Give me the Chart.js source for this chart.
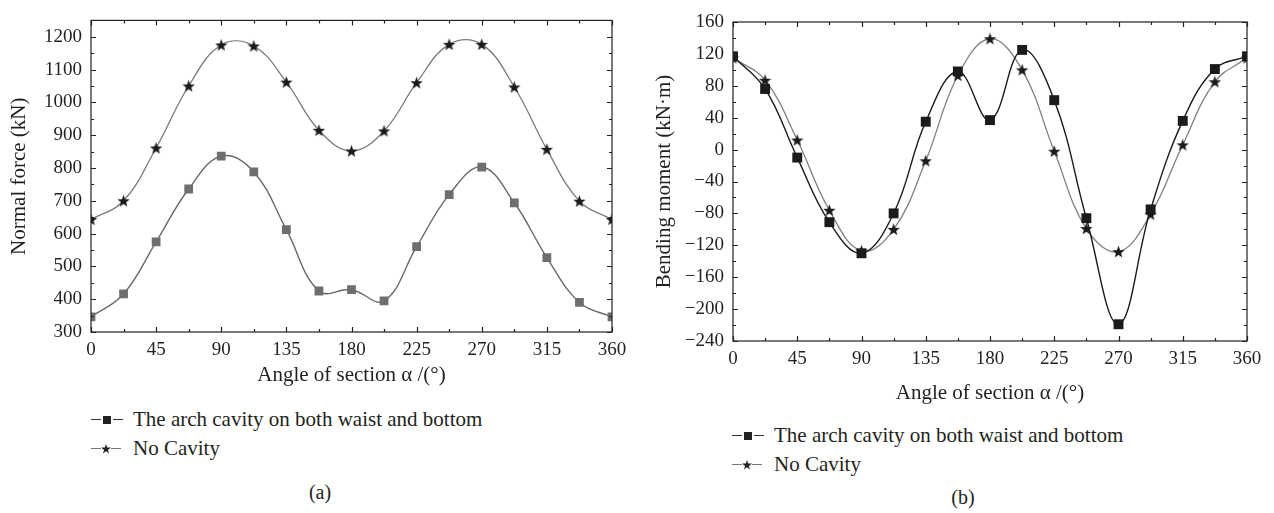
<!DOCTYPE html>
<html>
<head>
<meta charset="utf-8">
<script src="https://cdn.jsdelivr.net/npm/chart.js"></script>
<style>
  body { margin: 0; background: #fff; width: 1274px; height: 513px; position: relative; overflow: hidden;
         font-family: "Liberation Serif", "DejaVu Serif", serif; color: #231f20; }
  canvas { position: absolute; }
  .legend { position: absolute; font-size: 21px; line-height: 29px; }
  .row { display: flex; align-items: center; white-space: nowrap; }
  .sym { display: inline-flex; align-items: center; width: 34px; margin-right: 8px; }
  .ln { display: inline-block; width: 10px; height: 1.3px; background: #333; }
  .ln.grey { background: #777; }
  .sq { display: inline-block; width: 8px; height: 8px; background: #222; margin: 0 2px; }
  .caption { position: absolute; font-size: 20px; transform: translateX(-50%); }
</style>
</head>
<body>
<canvas id="forceChart" width="640" height="392" style="left:0;top:0"></canvas>
<canvas id="momentChart" width="634" height="410" style="left:640px;top:0"></canvas>

<div class="legend" style="left:91px;top:405px">
  <div class="row"><span class="sym"><i class="ln"></i><b class="sq"></b><i class="ln"></i></span>The arch cavity on both waist and bottom</div>
  <div class="row"><span class="sym"><i class="ln grey"></i><svg width="10" height="10" viewBox="0 0 10 10"><polygon points="5,0 6.2,3.6 10,3.6 6.9,5.9 8.1,9.6 5,7.3 1.9,9.6 3.1,5.9 0,3.6 3.8,3.6" fill="#222"/></svg><i class="ln grey"></i></span>No Cavity</div>
</div>
<div class="legend" style="left:732px;top:421px">
  <div class="row"><span class="sym"><i class="ln"></i><b class="sq"></b><i class="ln"></i></span>The arch cavity on both waist and bottom</div>
  <div class="row"><span class="sym"><i class="ln grey"></i><svg width="10" height="10" viewBox="0 0 10 10"><polygon points="5,0 6.2,3.6 10,3.6 6.9,5.9 8.1,9.6 5,7.3 1.9,9.6 3.1,5.9 0,3.6 3.8,3.6" fill="#222"/></svg><i class="ln grey"></i></span>No Cavity</div>
</div>
<div class="caption" style="left:320px;top:481px">(a)</div>
<div class="caption" style="left:963px;top:486px">(b)</div>

<script>
// section angles (deg)
const angles = [0, 22.5, 45, 67.5, 90, 112.5, 135, 157.5, 180, 202.5, 225, 247.5, 270, 292.5, 315, 337.5, 360];

// (a) normal force, kN
const forceCavity = [346, 416, 575, 736, 836, 788, 612, 425, 429, 395, 560, 719, 803, 694, 527, 390, 346];
const forceNone   = [643, 700, 861, 1050, 1175, 1172, 1062, 915, 852, 913, 1060, 1177, 1177, 1047, 857, 699, 643];

// (b) bending moment, kN·m
const momentCavity = [117, 76, -10, -91, -130, -80, 35, 98, 37, 125, 62, -86, -219, -75, 36, 101, 117];
const momentNone   = [115, 87, 12, -76, -127, -100, -14, 93, 139, 100, -2, -99, -128, -81, 6, 85, 115];

// tick labels
const xTicks = [0, 45, 90, 135, 180, 225, 270, 315, 360];
const forceTicks = [300, 400, 500, 600, 700, 800, 900, 1000, 1100, 1200];
const momentTicks = [-240, -200, -160, -120, -80, -40, 0, 40, 80, 120, 160];

const serif = '"Liberation Serif", "DejaVu Serif", serif';
const ink = '#231f20';

function pts(ys) {
    return angles.map((a, i) => ({ x: a, y: ys[i] }));
}

function makeStar(size, color) {
    const c = document.createElement('canvas');
    c.width = c.height = size;
    const ctx = c.getContext('2d');
    ctx.fillStyle = color;
    ctx.beginPath();
    const cx = size / 2, cy = size / 2 + 0.6, R = size / 2, r = R * 0.42;
    for (let i = 0; i < 10; i++) {
        const a = -Math.PI / 2 + i * Math.PI / 5;
        const rad = i % 2 ? r : R;
        ctx.lineTo(cx + rad * Math.cos(a), cy + rad * Math.sin(a));
    }
    ctx.closePath();
    ctx.fill();
    return c;
}
const star = makeStar(13, '#1b1b1b');

// box frame with inward major/minor ticks on all four sides
const framePlugin = {
    id: 'frame',
    afterDraw(chart, args, opts) {
        const { ctx, chartArea: a, scales: { x, y } } = chart;
        ctx.save();
        ctx.strokeStyle = '#222';
        ctx.lineWidth = 1.2;
        ctx.strokeRect(a.left, a.top, a.right - a.left, a.bottom - a.top);
        ctx.beginPath();
        for (let v = x.min; v <= x.max + 1e-6; v += opts.xMinor) {
            const len = xTicks.includes(v) ? 5 : 3;
            const px = Math.round(x.getPixelForValue(v)) + 0.5;
            ctx.moveTo(px, a.bottom); ctx.lineTo(px, a.bottom - len);
            ctx.moveTo(px, a.top); ctx.lineTo(px, a.top + len);
        }
        for (let v = y.min; v <= y.max + 1e-6; v += opts.yMinor) {
            const len = opts.yMajor.includes(v) ? 5 : 3;
            const py = Math.round(y.getPixelForValue(v)) + 0.5;
            ctx.moveTo(a.left, py); ctx.lineTo(a.left + len, py);
            ctx.moveTo(a.right, py); ctx.lineTo(a.right - len, py);
        }
        ctx.stroke();
        ctx.restore();
    }
};

function makeChart(id, cfg) {
    return new Chart(document.getElementById(id), {
        type: 'line',
        data: { datasets: cfg.datasets },
        plugins: [framePlugin],
        options: {
            responsive: false,
            animation: false,
            devicePixelRatio: 1,
            layout: { padding: cfg.padding },
            plugins: {
                legend: { display: false },
                tooltip: { enabled: false },
                frame: { xMinor: 22.5, yMinor: cfg.yMinor, yMajor: cfg.yTicks }
            },
            scales: {
                x: {
                    type: 'linear', min: 0, max: 360,
                    afterBuildTicks: s => { s.ticks = xTicks.map(v => ({ value: v })); },
                    afterFit: s => { s.height = cfg.xHeight; },
                    grid: { display: false, drawTicks: false },
                    border: { display: false },
                    ticks: { padding: 7, color: ink, font: { family: serif, size: 19 }, maxRotation: 0 },
                    title: { display: true, text: 'Angle of section α /(°)', color: ink,
                             font: { family: serif, size: 21 }, padding: { top: 1 } }
                },
                y: {
                    min: cfg.yMin, max: cfg.yMax,
                    afterBuildTicks: s => { s.ticks = cfg.yTicks.map(v => ({ value: v })); },
                    afterFit: s => { s.width = cfg.yWidth; },
                    grid: { display: false, drawTicks: false },
                    border: { display: false },
                    ticks: { padding: 9, color: ink, font: { family: serif, size: 19 },
                             callback: v => String(v).replace('-', '\u2212') },
                    title: { display: true, text: cfg.yTitle, color: ink,
                             font: { family: serif, size: 21 }, padding: { top: cfg.yTitlePad, bottom: 0 } }
                }
            }
        }
    });
}

makeChart('forceChart', {
    padding: { left: 0, right: 28, top: 9, bottom: 0 },
    xHeight: 60, yWidth: 91, yTitlePad: 7,
    yMin: 300, yMax: 1250, yMinor: 50, yTicks: forceTicks,
    yTitle: 'Normal force (kN)',
    datasets: [
        {
            label: 'The arch cavity on both waist and bottom',
            data: pts(forceCavity),
            borderColor: '#686868', borderWidth: 1.4, tension: 0.4,
            pointStyle: 'rect', pointRadius: 6.2,
            pointBackgroundColor: '#6e6e70', pointBorderColor: '#6e6e70', pointBorderWidth: 0
        },
        {
            label: 'No Cavity',
            data: pts(forceNone),
            borderColor: '#7a7a7a', borderWidth: 1.3, tension: 0.4,
            pointStyle: star, pointRadius: 6
        }
    ]
});

makeChart('momentChart', {
    padding: { left: 0, right: 27, top: 22, bottom: 0 },
    xHeight: 69, yWidth: 93, yTitlePad: 12,
    yMin: -240, yMax: 160, yMinor: 20, yTicks: momentTicks,
    yTitle: 'Bending moment (kN·m)',
    datasets: [
        {
            label: 'The arch cavity on both waist and bottom',
            data: pts(momentCavity),
            borderColor: '#1a1a1a', borderWidth: 1.4, tension: 0.4,
            pointStyle: 'rect', pointRadius: 7,
            pointBackgroundColor: '#1b1b1b', pointBorderColor: '#1b1b1b', pointBorderWidth: 0
        },
        {
            label: 'No Cavity',
            data: pts(momentNone),
            borderColor: '#808080', borderWidth: 1.3, tension: 0.4,
            pointStyle: star, pointRadius: 6
        }
    ]
});
</script>
</body>
</html>
